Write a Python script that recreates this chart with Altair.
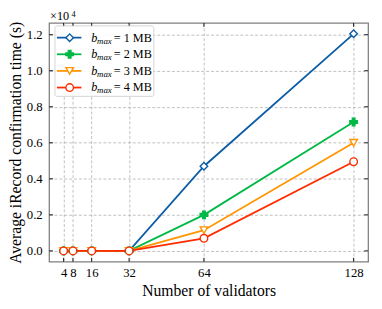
import altair as alt
import pandas as pd

validators = [4, 8, 16, 32, 64, 128]
series_names = ["1 MB", "2 MB", "3 MB", "4 MB"]
t_1mb = [0, 0, 0, 0, 4700, 12050]
t_2mb = [0, 0, 0, 0, 2000, 7150]
t_3mb = [0, 0, 0, 0, 1150, 6000]
t_4mb = [0, 0, 0, 0, 700, 4950]
y_ticks = [0, 2000, 4000, 6000, 8000, 10000, 12000]

colors = ["#0C5DA5", "#00B945", "#FF9500", "#FF2C00"]
fills = ["white", "#00B945", "white", "white"]
plus = "M-0.35,-1H0.35V-0.35H1V0.35H0.35V1H-0.35V0.35H-1V-0.35H-0.35Z"
shapes = ["diamond", plus, "triangle-down", "circle"]

rows = []
for name, vals in zip(series_names, [t_1mb, t_2mb, t_3mb, t_4mb]):
    for v, t in zip(validators, vals):
        rows.append({"series": name, "n": v, "t": t})
df = pd.DataFrame(rows)

W, H = 326, 244
FONT = "Liberation Serif"
MS = 60
xs = alt.Scale(domain=[-2.2, 134.2], nice=False, zero=False)
ys = alt.Scale(domain=[-602, 12652], nice=False, zero=False)
cscale = alt.Scale(domain=series_names, range=colors)
fscale = alt.Scale(domain=series_names, range=fills)
sscale = alt.Scale(domain=series_names, range=shapes)

base = alt.Chart(df)
lines = base.mark_line(strokeWidth=1.8).encode(
    x=alt.X("n:Q", scale=xs,
            axis=alt.Axis(values=validators, title="Number of validators", grid=True,
                          ticks=False, domain=False, labelPadding=5, titlePadding=4,
                          labelFlush=False)),
    y=alt.Y("t:Q", scale=ys,
            axis=alt.Axis(values=y_ticks, title="Average iRecord confirmation time (s)",
                          grid=True, ticks=False, domain=False, labelPadding=7,
                          titlePadding=3,
                          labelExpr="format(datum.value/10000, '.1f')")),
    color=alt.Color("series:N", scale=cscale, legend=None),
    detail="series:N",
)
points = base.mark_point(size=MS, strokeWidth=1.4, opacity=1).encode(
    x=alt.X("n:Q", scale=xs),
    y=alt.Y("t:Q", scale=ys),
    stroke=alt.Stroke("series:N", scale=cscale, legend=None),
    fill=alt.Fill("series:N", scale=fscale, legend=None),
    shape=alt.Shape("series:N", scale=sscale, legend=None),
)

ydf = pd.DataFrame({"t": y_ticks})
xdf = pd.DataFrame({"n": validators})
tk = dict(color="black", strokeWidth=0.9)
yt_left = alt.Chart(ydf).mark_rule(**tk).encode(
    x=alt.value(0), x2=alt.value(4), y=alt.Y("t:Q", scale=ys))
yt_right = alt.Chart(ydf).mark_rule(**tk).encode(
    x=alt.value(W - 4), x2=alt.value(W), y=alt.Y("t:Q", scale=ys))
xt_bot = alt.Chart(xdf).mark_rule(**tk).encode(
    y=alt.value(H - 4), y2=alt.value(H), x=alt.X("n:Q", scale=xs))
xt_top = alt.Chart(xdf).mark_rule(**tk).encode(
    y=alt.value(0), y2=alt.value(4), x=alt.X("n:Q", scale=xs))

main = alt.layer(lines, points, yt_left, yt_right, xt_bot, xt_top)

# legend
ldf = pd.DataFrame({"series": series_names, "row": [0, 1, 2, 3],
                    "rest": ["= " + s for s in series_names]})
lys = alt.Scale(domain=[0, 3], range=[15, 66])
lb = alt.Chart(ldf)
box = alt.Chart(pd.DataFrame({"a": [0]})).mark_rect(
    fill="white", stroke="#cccccc", strokeWidth=0.9, cornerRadius=2, opacity=0.9).encode(
    x=alt.value(6), x2=alt.value(107), y=alt.value(3), y2=alt.value(75))
lline = lb.mark_rule(strokeWidth=1.8).encode(
    x=alt.value(8), x2=alt.value(33),
    y=alt.Y("row:Q", scale=lys, axis=None),
    color=alt.Color("series:N", scale=cscale, legend=None))
lpt = lb.mark_point(size=MS, strokeWidth=1.4, opacity=1).encode(
    x=alt.value(21),
    y=alt.Y("row:Q", scale=lys, axis=None),
    stroke=alt.Stroke("series:N", scale=cscale, legend=None),
    fill=alt.Fill("series:N", scale=fscale, legend=None),
    shape=alt.Shape("series:N", scale=sscale, legend=None))
tb = lb.mark_text(font=FONT, fontSize=12.5, fontStyle="italic", align="left",
                  baseline="middle", color="black").encode(
    x=alt.value(43), y=alt.Y("row:Q", scale=lys, axis=None), text=alt.value("b"))
tmax = lb.mark_text(font=FONT, fontSize=9, fontStyle="italic", align="left",
                    baseline="middle", color="black", dy=3).encode(
    x=alt.value(49), y=alt.Y("row:Q", scale=lys, axis=None), text=alt.value("max"))
trest = lb.mark_text(font=FONT, fontSize=12.5, align="left",
                     baseline="middle", color="black").encode(
    x=alt.value(66), y=alt.Y("row:Q", scale=lys, axis=None), text="rest:N")
legend = alt.layer(box, lline, lpt, tb, tmax, trest)

# multiplier
mdf = pd.DataFrame({"a": [0]})
m1 = alt.Chart(mdf).mark_text(font=FONT, fontSize=12.5, align="left", baseline="alphabetic",
                              color="black").encode(
    x=alt.value(1), y=alt.value(-3), text=alt.value("×10"))
m2 = alt.Chart(mdf).mark_text(font=FONT, fontSize=8.5, align="left", baseline="alphabetic",
                              color="black").encode(
    x=alt.value(23), y=alt.value(-6), text=alt.value("4"))

chart = alt.layer(main, legend, m1, m2).resolve_scale(
    y="independent", x="independent").properties(
    width=W, height=H,
    background="white",
    autosize=alt.AutoSizeParams(type="none"),
    padding={"left": 42, "top": 12, "right": 6, "bottom": 45},
).configure_view(stroke="#7f7f7f", strokeWidth=1.3).configure_axis(
    labelFont=FONT, titleFont=FONT, labelFontSize=13, titleFontSize=16,
    titleFontWeight="normal", labelColor="black", titleColor="black",
    gridDash=[3, 2], gridColor="#b0b0b0", gridWidth=0.8,
)

chart.save("out.html", embed_options={"renderer": "svg", "actions": False})
